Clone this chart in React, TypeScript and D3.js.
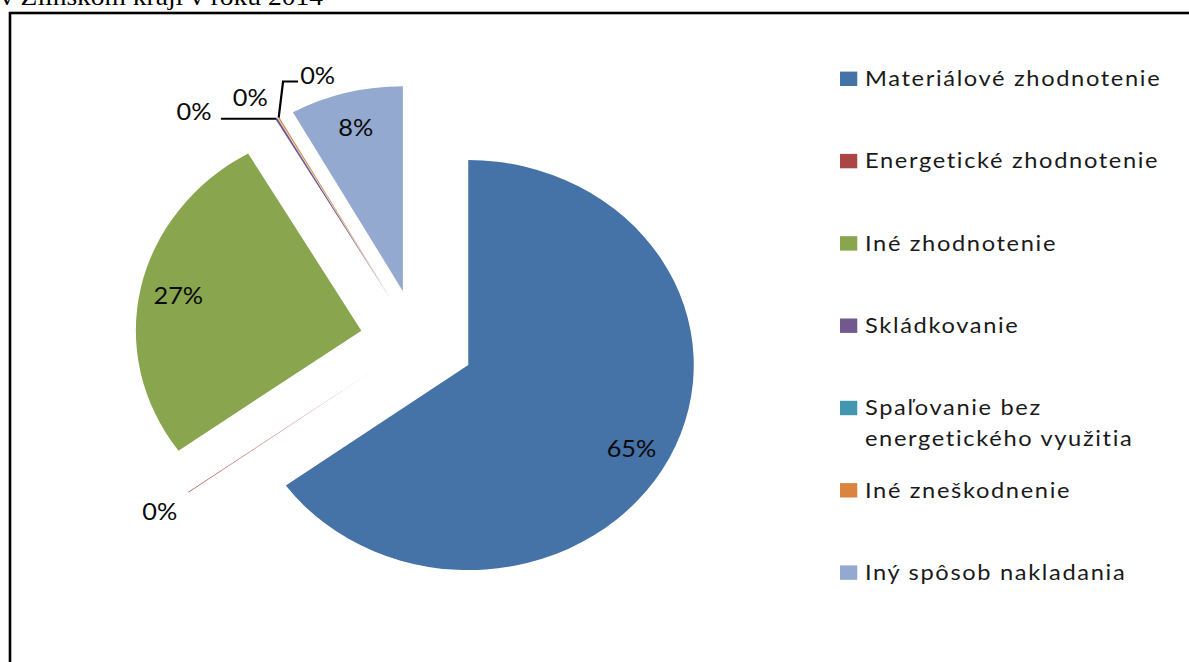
import * as d3 from "d3";
import React from "react";

// data (share of waste by treatment, %)
const categories = [
  "Materiálové zhodnotenie",
  "Energetické zhodnotenie",
  "Iné zhodnotenie",
  "Skládkovanie",
  "Spaľovanie bez energetického využitia",
  "Iné zneškodnenie",
  "Iný spôsob nakladania",
];
const values = [64.95, 0.05, 26.55, 0.15, 0.02, 0.1, 8.1];
const colors = ["#4572A7", "#AA4643", "#89A54E", "#71588F", "#4198AF", "#DB843D", "#93A9CF"];
// legend text as it wraps in the original
const legendLines = [
  ["Materiálové zhodnotenie"],
  ["Energetické zhodnotenie"],
  ["Iné zhodnotenie"],
  ["Skládkovanie"],
  ["Spaľovanie bez", "energetického využitia"],
  ["Iné zneškodnenie"],
  ["Iný spôsob nakladania"],
];
const title = "v Zlínskom kraji v roku 2014";

const W = 1189;
const H = 662;
const SX = 1.1; // the original picture is stretched horizontally
const cx = 417.3;
const cy = 341.5;
const R = 205;
const EXPLODE = 52;
const FONT = "Lato, 'Open Sans', sans-serif";

// hand placed labels for the crowded 0% slices (offsets from slice tip)
const crowded: Record<number, { dx: number; dy: number; leader: number[][] | null }> = {
  3: { dx: -75, dy: -8, leader: [[-50.5, 0], [0, 0]] },
  4: { dx: -25, dy: -21, leader: null },
  5: { dx: 35.4, dy: -43, leader: [[0, 0], [4, -36], [17.6, -36]] },
};

const dir = (a: number) => [Math.sin(a), -Math.cos(a)];

export default function App() {
  const total = d3.sum(values);
  const pie = d3.pie<number>().sort(null).value((d) => d).startAngle(0).endAngle(2 * Math.PI)(values);
  const arc = d3.arc<d3.PieArcDatum<number>>().innerRadius(0).outerRadius(R);
  const pct = (v: number) => `${Math.round((v / total) * 100)}%`;

  const legendStep = 82.3;
  const legendY0 = 78.8;

  return (
    <svg
      width={W}
      height={H}
      style={{ position: "absolute", left: 0, top: 0, background: "#fff" }}
    >
      <text
        transform={`translate(0,4.5) scale(${SX},1)`}
        fontFamily="'Liberation Serif', 'Times New Roman', serif"
        fontSize={25}
        fill="#000"
      >
        {title}
      </text>
      <rect x={10} y={13} width={W + 20} height={H + 20} fill="none" stroke="#000" strokeWidth={2.6} />

      <g transform={`translate(${cx},${cy}) scale(${SX},1)`}>
        {pie.map((p, i) => {
          const mid = (p.startAngle + p.endAngle) / 2;
          const [ux, uy] = dir(mid);
          return (
            <path
              key={categories[i]}
              d={arc(p) || ""}
              transform={`translate(${ux * EXPLODE},${uy * EXPLODE})`}
              fill={colors[i]}
            />
          );
        })}
        {pie.map((p, i) => {
          const mid = (p.startAngle + p.endAngle) / 2;
          const [ux, uy] = dir(mid);
          const share = p.value / total;
          let x: number;
          let y: number;
          let leader: string | null = null;
          if (share >= 0.05) {
            // Excel places these a bit past the mid angle for the big slice
            const a = share > 0.5 ? mid + 0.04 : mid;
            const [lx, ly] = dir(a);
            x = ux * EXPLODE + lx * R * 0.83;
            y = uy * EXPLODE + ly * R * 0.83;
          } else if (crowded[i]) {
            const tx = ux * (EXPLODE + R);
            const ty = uy * (EXPLODE + R);
            x = tx + crowded[i].dx;
            y = ty + crowded[i].dy;
            if (crowded[i].leader) {
              leader = d3.line()(crowded[i].leader!.map(([a, b]) => [tx + a, ty + b] as [number, number]));
            }
          } else {
            x = ux * (EXPLODE + R + 32);
            y = uy * (EXPLODE + R + 32);
          }
          return (
            <g key={"l" + i}>
              {leader && <path d={leader} fill="none" stroke="#000" strokeWidth={2} />}
              <text
                x={x}
                y={y}
                textAnchor="middle"
                dominantBaseline="central"
                fontFamily={FONT}
                fontSize={23}
                fill="#0a0a0a"
              >
                {pct(p.value)}
              </text>
            </g>
          );
        })}
      </g>

      {legendLines.map((lines, i) => {
        const y = legendY0 + i * legendStep;
        return (
          <g key={"lg" + i} transform={`translate(840,${y}) scale(${SX},1)`}>
            <rect x={0} y={-7.2} width={15.7} height={14.4} fill={colors[i]} />
            {lines.map((t, j) => (
              <text
                key={t}
                x={22.7}
                y={7.2 + j * 31}
                fontFamily={FONT}
                fontSize={21.5}
                letterSpacing={1.5}
                fill="#1a1a1a"
              >
                {t}
              </text>
            ))}
          </g>
        );
      })}
    </svg>
  );
}
